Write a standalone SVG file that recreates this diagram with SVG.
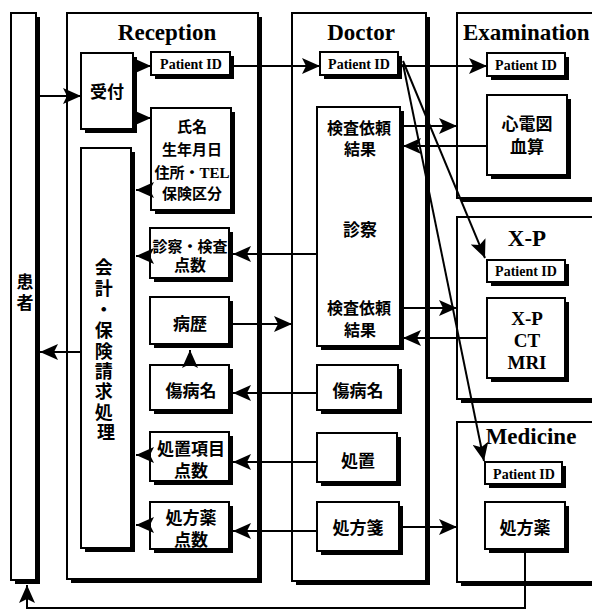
<svg xmlns="http://www.w3.org/2000/svg" width="592" height="613" viewBox="0 0 592 613">
<style>
.bg{fill:#fff}
.box{fill:#fff;stroke:#000;stroke-width:2}
.sh{fill:#000}
.title{font-family:"Liberation Serif",serif;font-weight:bold;font-size:23px}
.pid{font-family:"Liberation Serif",serif;font-weight:bold;font-size:14px}
.jp{font-family:"Liberation Serif","Noto Sans CJK JP",sans-serif;font-weight:bold;font-size:16px}
.jl{font-size:17px}
.js{font-size:15px}
.c{stroke:#000;stroke-width:2;fill:none}
.a{marker-end:url(#ah)}
text{text-anchor:middle;dominant-baseline:central}
</style>
<defs>
<marker id="ah" viewBox="0 0 18 16" refX="18" refY="8" markerWidth="18" markerHeight="16" markerUnits="userSpaceOnUse" orient="auto">
<path d="M0,0 L18,8 L0,16 L4,8 Z" fill="#000"/>
</marker>
</defs>
<rect class="bg" x="0" y="0" width="592" height="613"/>

<!-- outer columns -->
<g id="patient">
<rect class="sh" x="15" y="17" width="25" height="567"/>
<rect class="box" x="11" y="13" width="25" height="567"/>
<text class="jp jl" x="25" y="282">患</text>
<text class="jp jl" x="25" y="303">者</text>
</g>
<g id="reception">
<rect class="sh" x="71" y="17" width="191" height="566"/>
<rect class="box" x="67" y="13" width="191" height="566"/>
<text class="title" x="167" y="32">Reception</text>
</g>
<g id="doctor">
<rect class="sh" x="296" y="17" width="134" height="568"/>
<rect class="box" x="292" y="13" width="134" height="568"/>
<text class="title" x="361" y="32">Doctor</text>
</g>
<g id="examination">
<rect class="sh" x="461" y="17" width="150" height="185"/>
<rect class="box" x="457" y="13" width="150" height="185"/>
<text class="title" x="463" y="32" style="text-anchor:start">Examination</text>
</g>
<g id="xp">
<rect class="sh" x="461" y="221" width="150" height="182"/>
<rect class="box" x="457" y="217" width="150" height="182"/>
<text class="title" x="527" y="238">X-P</text>
</g>
<g id="medicine">
<rect class="sh" x="461" y="426" width="150" height="160"/>
<rect class="box" x="457" y="422" width="150" height="160"/>
<text class="title" x="531" y="436">Medicine</text>
</g>

<!-- Reception inner -->
<g id="uketsuke">
<rect class="sh" x="85" y="57" width="52" height="76"/>
<rect class="box" x="81" y="53" width="52" height="76"/>
<text class="jp jl" x="107" y="92">受付</text>
</g>
<g id="rec-pid">
<rect class="sh" x="155" y="56" width="79" height="23"/>
<rect class="box" x="151" y="52" width="79" height="23"/>
<text class="pid" x="191" y="64">Patient ID</text>
</g>
<g id="rec-info">
<rect class="sh" x="155" y="112" width="80" height="102"/>
<rect class="box" x="151" y="108" width="80" height="102"/>
<text class="jp js" x="192" y="127">氏名</text>
<text class="jp js" x="192" y="150">生年月日</text>
<text class="jp js" x="192" y="173">住所・TEL</text>
<text class="jp js" x="192" y="194">保険区分</text>
</g>
<g id="kaikei">
<rect class="sh" x="85" y="152" width="50" height="400"/>
<rect class="box" x="81" y="148" width="50" height="400"/>
<text class="jp" style="font-size:18px">
<tspan x="106" y="268">会</tspan>
<tspan x="106" y="289">計</tspan>
<tspan x="106" y="310">・</tspan>
<tspan x="106" y="331">保</tspan>
<tspan x="106" y="352">険</tspan>
<tspan x="106" y="372">請</tspan>
<tspan x="106" y="392">求</tspan>
<tspan x="106" y="413">処</tspan>
<tspan x="106" y="433">理</tspan>
</text>
</g>
<g id="rec-shinsatsu">
<rect class="sh" x="154" y="232" width="79" height="50"/>
<rect class="box" x="150" y="228" width="79" height="50"/>
<text class="jp js" x="190" y="247">診察・検査</text>
<text class="jp" x="190" y="265">点数</text>
</g>
<g id="byoureki">
<rect class="sh" x="154" y="301" width="79" height="47"/>
<rect class="box" x="150" y="297" width="79" height="47"/>
<text class="jp jl" x="190" y="324">病歴</text>
</g>
<g id="rec-shoubyoumei">
<rect class="sh" x="154" y="369" width="79" height="45"/>
<rect class="box" x="150" y="365" width="79" height="45"/>
<text class="jp jl" x="191" y="391">傷病名</text>
</g>
<g id="rec-shochi">
<rect class="sh" x="154" y="436" width="79" height="49"/>
<rect class="box" x="150" y="432" width="79" height="49"/>
<text class="jp jl" x="191" y="449">処置項目</text>
<text class="jp jl" x="191" y="471">点数</text>
</g>
<g id="rec-shohou">
<rect class="sh" x="154" y="506" width="79" height="47"/>
<rect class="box" x="150" y="502" width="79" height="47"/>
<text class="jp jl" x="191" y="518">処方薬</text>
<text class="jp jl" x="191" y="540">点数</text>
</g>

<!-- Doctor inner -->
<g id="doc-pid">
<rect class="sh" x="324" y="56" width="78" height="23"/>
<rect class="box" x="320" y="52" width="78" height="23"/>
<text class="pid" x="359" y="64">Patient ID</text>
</g>
<g id="doc-main">
<rect class="sh" x="321" y="111" width="83" height="239"/>
<rect class="box" x="317" y="107" width="83" height="239"/>
<text class="jp" x="359" y="128">検査依頼</text>
<text class="jp" x="360" y="149">結果</text>
<text class="jp jl" x="360" y="230">診察</text>
<text class="jp" x="359" y="308">検査依頼</text>
<text class="jp" x="360" y="330">結果</text>
</g>
<g id="doc-shoubyoumei">
<rect class="sh" x="321" y="369" width="81" height="45"/>
<rect class="box" x="317" y="365" width="81" height="45"/>
<text class="jp jl" x="358" y="391">傷病名</text>
</g>
<g id="doc-shochi">
<rect class="sh" x="321" y="437" width="80" height="49"/>
<rect class="box" x="317" y="433" width="80" height="49"/>
<text class="jp jl" x="358" y="461">処置</text>
</g>
<g id="doc-shohousen">
<rect class="sh" x="321" y="506" width="82" height="49"/>
<rect class="box" x="317" y="502" width="82" height="49"/>
<text class="jp jl" x="358" y="528">処方箋</text>
</g>

<!-- Examination inner -->
<g id="exam-pid">
<rect class="sh" x="491" y="57" width="78" height="23"/>
<rect class="box" x="487" y="53" width="78" height="23"/>
<text class="pid" x="526" y="65">Patient ID</text>
</g>
<g id="exam-ecg">
<rect class="sh" x="491" y="99" width="80" height="80"/>
<rect class="box" x="487" y="95" width="80" height="80"/>
<text class="jp jl" x="527" y="124">心電図</text>
<text class="jp jl" x="527" y="147">血算</text>
</g>

<!-- X-P inner -->
<g id="xp-pid">
<rect class="sh" x="491" y="264" width="78" height="22"/>
<rect class="box" x="487" y="260" width="78" height="22"/>
<text class="pid" x="526" y="271">Patient ID</text>
</g>
<g id="xp-ctmri">
<rect class="sh" x="491" y="302" width="78" height="80"/>
<rect class="box" x="487" y="298" width="78" height="80"/>
<text class="title" style="font-size:19px" x="527" y="318">X-P</text>
<text class="title" style="font-size:19px" x="527" y="340">CT</text>
<text class="title" style="font-size:19px" x="527" y="362">MRI</text>
</g>

<!-- Medicine inner -->
<g id="med-pid">
<rect class="sh" x="489" y="466" width="77" height="22"/>
<rect class="box" x="485" y="462" width="77" height="22"/>
<text class="pid" x="524" y="474">Patient ID</text>
</g>
<g id="med-shohouyaku">
<rect class="sh" x="489" y="506" width="80" height="47"/>
<rect class="box" x="485" y="502" width="80" height="47"/>
<text class="jp jl" x="525" y="528">処方薬</text>
</g>

<!-- connectors -->
<g id="connectors">
<line class="c a" x1="40" y1="96" x2="81" y2="96"/>
<line class="c a" x1="134" y1="66" x2="151" y2="66"/>
<line class="c a" x1="134" y1="118" x2="151" y2="118"/>
<line class="c a" x1="151" y1="190" x2="136" y2="190"/>
<line class="c a" x1="234" y1="66" x2="320" y2="66"/>
<line class="c a" x1="402" y1="66" x2="487" y2="66"/>
<line class="c a" x1="403" y1="61" x2="485" y2="258"/>
<line class="c a" x1="403" y1="64" x2="484" y2="461"/>
<line class="c a" x1="404" y1="126" x2="457" y2="126"/>
<line class="c a" x1="487" y1="146" x2="403" y2="146"/>
<line class="c a" x1="404" y1="308" x2="457" y2="308"/>
<line class="c a" x1="487" y1="338" x2="403" y2="338"/>
<line class="c a" x1="317" y1="254" x2="233" y2="254"/>
<line class="c a" x1="150" y1="256" x2="136" y2="256"/>
<line class="c a" x1="233" y1="324" x2="292" y2="324"/>
<line class="c a" x1="190" y1="366" x2="190" y2="350"/>
<line class="c a" x1="81" y1="352" x2="40" y2="352"/>
<line class="c a" x1="317" y1="393" x2="233" y2="393"/>
<line class="c a" x1="317" y1="462" x2="233" y2="462"/>
<line class="c a" x1="150" y1="455" x2="136" y2="455"/>
<line class="c a" x1="317" y1="531" x2="233" y2="531"/>
<line class="c a" x1="150" y1="525" x2="136" y2="525"/>
<line class="c a" x1="403" y1="527" x2="457" y2="527"/>
<polyline class="c a" points="525,553 525,608 27,608 27,585"/>
</g>
</svg>
